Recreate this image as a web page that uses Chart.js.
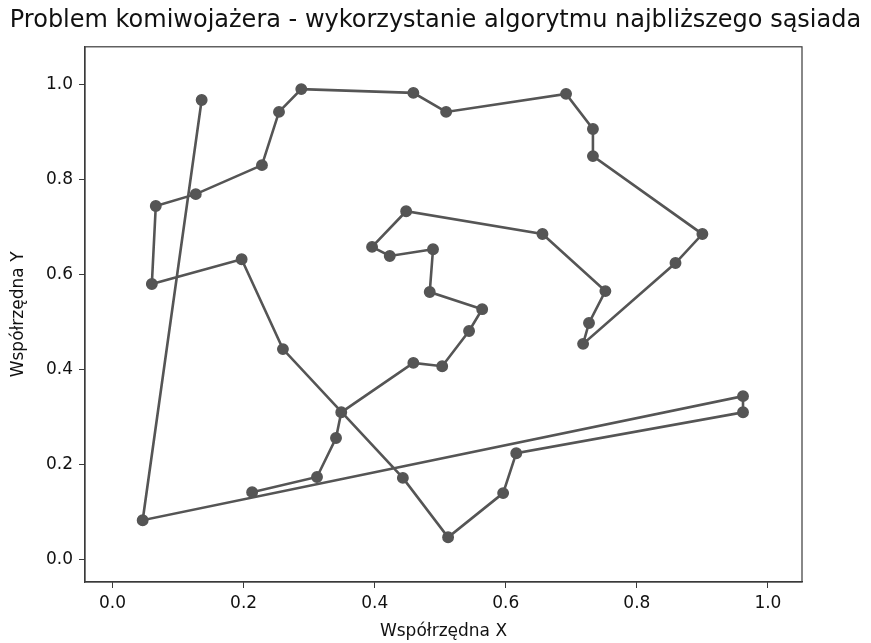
<!DOCTYPE html>
<html>
<head>
<meta charset="utf-8">
<script src="https://cdn.jsdelivr.net/npm/chart.js@4/dist/chart.umd.min.js"></script>
<style>
  html, body { margin: 0; padding: 0; background: #fff; }
  #wrap { width: 871px; height: 643px; }
</style>
</head>
<body>
<div id="wrap"><canvas id="tspChart" width="871" height="643"></canvas></div>
<script>
// kolejnosc odwiedzania miast (trasa z algorytmu najblizszego sasiada)
var cityX = [0.213, 0.312, 0.341, 0.349, 0.459, 0.503, 0.544, 0.564, 0.484, 0.489,
             0.423, 0.396, 0.448, 0.656, 0.752, 0.727, 0.718, 0.859, 0.900, 0.733,
             0.733, 0.692, 0.509, 0.459, 0.288, 0.254, 0.228, 0.127, 0.066, 0.060,
             0.197, 0.260, 0.443, 0.512, 0.596, 0.616, 0.962, 0.962, 0.046, 0.136];
var cityY = [0.142, 0.174, 0.256, 0.310, 0.414, 0.407, 0.481, 0.527, 0.563, 0.653,
             0.639, 0.658, 0.733, 0.685, 0.565, 0.498, 0.454, 0.624, 0.685, 0.849,
             0.906, 0.980, 0.942, 0.982, 0.990, 0.942, 0.830, 0.769, 0.744, 0.580,
             0.632, 0.443, 0.172, 0.047, 0.140, 0.224, 0.310, 0.344, 0.083, 0.967];
var xTicks = [0.0, 0.2, 0.4, 0.6, 0.8, 1.0];
var yTicks = [0.0, 0.2, 0.4, 0.6, 0.8, 1.0];

var route = cityX.map(function (x, i) { return { x: x, y: cityY[i] }; });

var lineColor = '#555555';
var axisColor = '#3a3a3a';
var tickFont = { family: 'DejaVu Sans', size: 17 };

// ramka wokol wykresu (gorna i prawa krawedz)
var framePlugin = {
    id: 'frame',
    afterDraw: function (chart) {
        var a = chart.chartArea, ctx = chart.ctx;
        ctx.save();
        ctx.strokeStyle = axisColor;
        ctx.lineWidth = 1.2;
        ctx.strokeRect(a.left, a.top, a.right - a.left, a.bottom - a.top);
        ctx.restore();
    }
};

var ctx = document.getElementById('tspChart').getContext('2d');
var tspChart = new Chart(ctx, {
    type: 'scatter',
    data: {
        datasets: [{
            data: route,
            showLine: true,
            borderColor: lineColor,
            backgroundColor: lineColor,
            borderWidth: 2.6,
            pointRadius: 5.2,
            pointBorderWidth: 1.5,
            pointBackgroundColor: lineColor,
            pointBorderColor: lineColor,
            pointHoverRadius: 5.2
        }]
    },
    options: {
        responsive: false,
        animation: false,
        layout: { padding: 0 },
        plugins: {
            legend: { display: false },
            tooltip: { enabled: false },
            title: {
                display: true,
                text: 'Problem komiwojażera - wykorzystanie algorytmu najbliższego sąsiada',
                color: '#111',
                font: { family: 'DejaVu Sans', size: 24, weight: 'normal' },
                padding: { top: 6, bottom: 12 }
            }
        },
        scales: {
            x: {
                type: 'linear',
                min: -0.042,
                max: 1.052,
                afterBuildTicks: function (s) { s.ticks = xTicks.map(function (v) { return { value: v }; }); },
                afterFit: function (s) { s.height = 61; },
                grid: { display: true, drawOnChartArea: false, drawTicks: true, tickLength: 6, color: axisColor },
                border: { display: true, color: axisColor, width: 1.2 },
                ticks: {
                    color: '#111', font: tickFont, padding: 5, maxRotation: 0,
                    callback: function (v) { return v.toFixed(1); }
                },
                title: { display: true, text: 'Współrzędna X', color: '#111', font: tickFont, padding: { top: 0, bottom: 1 } }
            },
            y: {
                type: 'linear',
                min: -0.047,
                max: 1.079,
                afterBuildTicks: function (s) { s.ticks = yTicks.map(function (v) { return { value: v }; }); },
                afterFit: function (s) { s.width = 85; },
                grid: { display: true, drawOnChartArea: false, drawTicks: true, tickLength: 6, color: axisColor },
                border: { display: true, color: axisColor, width: 1.2 },
                ticks: {
                    color: '#111', font: tickFont, padding: 6,
                    callback: function (v) { return v.toFixed(1); }
                },
                title: { display: true, text: 'Współrzędna Y', color: '#111', font: tickFont, padding: { top: 8, bottom: 0 } }
            },
            yR: {
                type: 'linear',
                position: 'right',
                display: true,
                afterFit: function (s) { s.width = 69; },
                grid: { display: false },
                border: { display: false },
                ticks: { display: false }
            }
        }
    },
    plugins: [framePlugin]
});
</script>
</body>
</html>
